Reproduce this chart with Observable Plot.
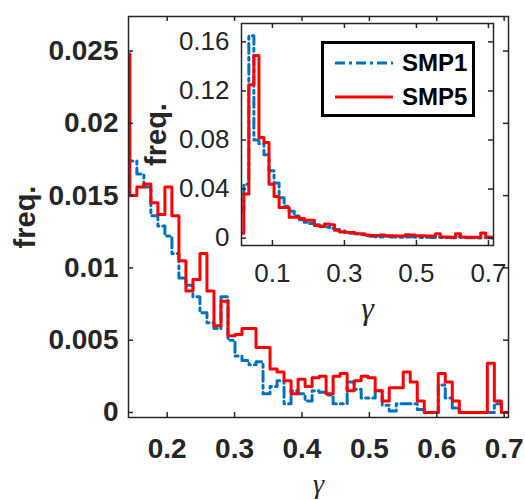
<!DOCTYPE html>
<html><head><meta charset="utf-8">
<script src="https://cdn.jsdelivr.net/npm/d3@7"></script>
<script src="https://cdn.jsdelivr.net/npm/@observablehq/plot@0.6"></script>
<style>
body{margin:0;background:#fff;}
#chart{position:relative;width:525px;height:500px;font-family:"Liberation Sans",Arial,sans-serif;}
#chart svg{position:absolute;left:0;top:0;}
</style></head><body><div id="chart"></div>
<script>
// ---- data ----
const seriesNames = ["SMP1", "SMP5"];
const seriesColors = ["#0072BD", "#FF0000"];

// main histogram bin edges (gamma)
const mainEdges = [0.1342, 0.1446, 0.1550, 0.1654, 0.1758, 0.1862, 0.1966, 0.2070, 0.2174, 0.2278, 0.2382,
  0.2486, 0.2590, 0.2694, 0.2798, 0.2902, 0.3006, 0.3110, 0.3214, 0.3318, 0.3422, 0.3526, 0.3630, 0.3734,
  0.3838, 0.3942, 0.4046, 0.4150, 0.4254, 0.4358, 0.4462, 0.4566, 0.4670, 0.4774, 0.4878, 0.4982, 0.5086,
  0.5190, 0.5294, 0.5398, 0.5502, 0.5606, 0.5710, 0.5814, 0.5918, 0.6022, 0.6126, 0.6230, 0.6334, 0.6438,
  0.6542, 0.6646, 0.6750, 0.6854, 0.6958, 0.7062, 0.7166];
const smp1Main = [0.0174, 0.0174, 0.0165, 0.0156, 0.0136, 0.0129, 0.0122, 0.0110, 0.0093, 0.0088, 0.0080,
  0.0069, 0.0062, 0.0058, 0.0080, 0.0050, 0.0039, 0.0036, 0.0033, 0.0035, 0.0013, 0.0018, 0.0022, 0.0006,
  0.0015, 0.0013, 0.0008, 0.0015, 0.0014, 0.0012, 0.0006, 0.0006, 0.0021, 0.0016, 0.0010, 0.0010, 0.0015,
  0.0005, 0.0001, 0.0006, 0.0006, 0.0006, 0.0002, 0, 0, 0.0019, 0.0010, 0.0003, 0, 0, 0, 0, 0, 0.0006, 0, 0];
const smp5Main = [0.0248, 0.0150, 0.0156, 0.0158, 0.0145, 0.0137, 0.0156, 0.0136, 0.0105, 0.0084, 0.0092,
  0.0110, 0.0084, 0.0060, 0.0077, 0.0053, 0.0054, 0.0058, 0.0058, 0.0045, 0.0045, 0.0030, 0.0028, 0.0022,
  0.0013, 0.0023, 0.0018, 0.0024, 0.0025, 0.0013, 0.0025, 0.0027, 0.0015, 0.0022, 0.0025, 0.0024, 0.0015,
  0.0008, 0.0017, 0.0017, 0.0028, 0.0021, 0.0008, 0, 0, 0.0027, 0.0021, 0.0008, 0, 0, 0, 0, 0.0034, 0.0008, 0, 0];

// inset histogram bin edges (gamma)
const insetEdges = [0.0065, 0.0205, 0.0345, 0.0485, 0.0625, 0.0765, 0.0905, 0.1045, 0.1185, 0.1325, 0.1465,
  0.1605, 0.1745, 0.1885, 0.2025, 0.2165, 0.2305, 0.2445, 0.2585, 0.2725, 0.2865, 0.3005, 0.3145, 0.3285,
  0.3425, 0.3565, 0.3705, 0.3845, 0.3985, 0.4125, 0.4265, 0.4405, 0.4545, 0.4685, 0.4825, 0.4965, 0.5105,
  0.5245, 0.5385, 0.5525, 0.5665, 0.5805, 0.5945, 0.6085, 0.6225, 0.6365, 0.6505, 0.6645, 0.6785, 0.6925,
  0.7065, 0.7205];
const smp1Inset = [0.022, 0.044, 0.165, 0.080, 0.077, 0.068, 0.055, 0.045, 0.033, 0.026, 0.022, 0.018, 0.015,
  0.013, 0.012, 0.011, 0.010, 0.009, 0.008, 0.007, 0.006, 0.005, 0.004, 0.0035, 0.003, 0.002, 0.0015, 0.0012,
  0.0010, 0.0015, 0.0010, 0.0010, 0.0008, 0.0010, 0.0012, 0.0008, 0.0006, 0.0008, 0.0006, 0.0010, 0.0006,
  0.0005, 0.0004, 0.0012, 0.0006, 0.0003, 0.0003, 0.0002, 0.0006, 0.0003, 0.0002];
const smp5Inset = [0.004, 0.036, 0.125, 0.149, 0.082, 0.078, 0.044, 0.034, 0.025, 0.025, 0.017, 0.017, 0.016,
  0.0145, 0.0145, 0.0104, 0.0095, 0.0115, 0.0110, 0.0065, 0.0050, 0.0049, 0.0045, 0.0036, 0.0036, 0.0025,
  0.0022, 0.0022, 0.0025, 0.0020, 0.0020, 0.0018, 0.0018, 0.0028, 0.0025, 0.0020, 0.0020, 0.0018, 0.0018,
  0.0036, 0.0010, 0.0010, 0.0008, 0.0036, 0.0010, 0.0008, 0.0008, 0.0008, 0.0041, 0.0010, 0.0008];

// ticks
const mainXTicks = [0.2, 0.3, 0.4, 0.5, 0.6, 0.7];
const mainXTickLabels = ["0.2", "0.3", "0.4", "0.5", "0.6", "0.7"];
const mainYTicks = [0, 0.005, 0.01, 0.015, 0.02, 0.025];
const mainYTickLabels = ["0", "0.005", "0.01", "0.015", "0.02", "0.025"];
const insetXTicks = [0.1, 0.3, 0.5, 0.7];
const insetXTickLabels = ["0.1", "0.3", "0.5", "0.7"];
const insetYTicks = [0, 0.04, 0.08, 0.12, 0.16];
const insetYTickLabels = ["0", "0.04", "0.08", "0.12", "0.16"];
const yLabel = "freq.";
const xLabel = "γ";

// ---- helpers ----
function steps(edges, vals, name) {
  return edges.map((x, i) => ({x, y: vals[Math.min(i, vals.length - 1)], series: name}));
}
function fmt(ticks, labels) { const m = new Map(ticks.map((t, i) => [t, labels[i]])); return d => m.get(d); }

const W = 525, H = 500, ink = "#262626", tick = 5;
const sans = "'Liberation Sans', Arial, sans-serif";
const serif = "'Liberation Serif', 'Times New Roman', serif";
const chart = document.getElementById("chart");

// ---- main plot ----
const mM = {top: 16, right: 17, bottom: 83, left: 128};
const mFW = W - mM.left - mM.right, mFH = H - mM.top - mM.bottom;
const main = Plot.plot({
  width: W, height: H,
  marginTop: mM.top, marginRight: mM.right, marginBottom: mM.bottom, marginLeft: mM.left,
  style: {background: "transparent", color: ink, fontFamily: sans, overflow: "visible"},
  x: {domain: [0.1426, 0.7064], axis: null},
  y: {domain: [-0.00035, 0.02739], axis: null},
  marks: [
    Plot.line(steps(mainEdges, smp1Main, seriesNames[0]), {x: "x", y: "y", curve: "step-after", stroke: seriesColors[0], strokeWidth: 3, strokeDasharray: "10,4,3,4", clip: true}),
    Plot.line(steps(mainEdges, smp5Main, seriesNames[1]), {x: "x", y: "y", curve: "step-after", stroke: seriesColors[1], strokeWidth: 3, clip: true}),
    Plot.frame({stroke: ink, strokeWidth: 1.5}),
    Plot.tickX(mainXTicks, {x: d => d, insetTop: mFH - tick, stroke: ink, strokeWidth: 1.5}),
    Plot.tickX(mainXTicks, {x: d => d, insetBottom: mFH - tick, stroke: ink, strokeWidth: 1.5}),
    Plot.tickY(mainYTicks, {y: d => d, insetRight: mFW - tick, stroke: ink, strokeWidth: 1.5}),
    Plot.tickY(mainYTicks, {y: d => d, insetLeft: mFW - tick, stroke: ink, strokeWidth: 1.5}),
    Plot.axisX(mainXTicks, {anchor: "bottom", tickSize: 0, tickPadding: 21, tickFormat: fmt(mainXTicks, mainXTickLabels), fontSize: 28, fontWeight: "bold", label: null}),
    Plot.axisY(mainYTicks, {anchor: "left", tickSize: 0, tickPadding: 10, tickFormat: fmt(mainYTicks, mainYTickLabels), fontSize: 28, fontWeight: "bold", label: null}),
    Plot.text([yLabel], {text: d => d, frameAnchor: "left", dx: 25 - mM.left, rotate: -90, textAnchor: "middle", lineAnchor: "middle", fontSize: 29, fontWeight: "bold", fill: ink}),
    Plot.text([xLabel], {text: d => d, frameAnchor: "bottom", dy: 67, textAnchor: "middle", lineAnchor: "middle", fontSize: 28, fontStyle: "italic", fontFamily: serif, fill: ink})
  ]
});
chart.appendChild(main);

// ---- inset plot ----
const iM = {top: 23, right: 32, bottom: 255, left: 241};
const iFW = W - iM.left - iM.right, iFH = H - iM.top - iM.bottom;
const inset = Plot.plot({
  width: W, height: H,
  marginTop: iM.top, marginRight: iM.right, marginBottom: iM.bottom, marginLeft: iM.left,
  style: {background: "transparent", color: ink, fontFamily: sans, overflow: "visible"},
  x: {domain: [0.0141, 0.714], axis: null},
  y: {domain: [-0.006, 0.175], axis: null},
  marks: [
    Plot.frame({fill: "white", stroke: "none"}),
    Plot.line(steps(insetEdges, smp1Inset, seriesNames[0]), {x: "x", y: "y", curve: "step-after", stroke: seriesColors[0], strokeWidth: 3, strokeDasharray: "10,4,3,4", clip: true}),
    Plot.line(steps(insetEdges, smp5Inset, seriesNames[1]), {x: "x", y: "y", curve: "step-after", stroke: seriesColors[1], strokeWidth: 3, clip: true}),
    Plot.frame({stroke: ink, strokeWidth: 1.5}),
    Plot.tickX(insetXTicks, {x: d => d, insetTop: iFH - tick, stroke: ink, strokeWidth: 1.5}),
    Plot.tickX(insetXTicks, {x: d => d, insetBottom: iFH - tick, stroke: ink, strokeWidth: 1.5}),
    Plot.tickY(insetYTicks, {y: d => d, insetRight: iFW - tick, stroke: ink, strokeWidth: 1.5}),
    Plot.tickY(insetYTicks, {y: d => d, insetLeft: iFW - tick, stroke: ink, strokeWidth: 1.5}),
    Plot.axisX(insetXTicks, {anchor: "bottom", tickSize: 0, tickPadding: 18, tickFormat: fmt(insetXTicks, insetXTickLabels), fontSize: 26, label: null}),
    Plot.axisY(insetYTicks, {anchor: "left", tickSize: 0, tickPadding: 12, tickFormat: fmt(insetYTicks, insetYTickLabels), fontSize: 26, label: null}),
    Plot.text([yLabel], {text: d => d, frameAnchor: "left", dx: 156 - iM.left, rotate: -90, textAnchor: "middle", lineAnchor: "middle", fontSize: 29, fontWeight: "bold", fill: ink}),
    Plot.text([xLabel], {text: d => d, frameAnchor: "bottom", dy: 63, textAnchor: "middle", lineAnchor: "middle", fontSize: 32, fontStyle: "italic", fontFamily: serif, fill: ink})
  ]
});
chart.appendChild(inset);

// ---- legend ----
const lg = d3.create("svg").attr("width", 156).attr("height", 78)
  .style("left", "320px").style("top", "40px").style("overflow", "visible");
lg.append("rect").attr("x", 2.5).attr("y", 2.5).attr("width", 151).attr("height", 73)
  .attr("fill", "white").attr("stroke", "black").attr("stroke-width", 3);
seriesNames.forEach((name, i) => {
  const cy = 23 + i * 34;
  lg.append("line").attr("x1", 15).attr("x2", 73).attr("y1", cy).attr("y2", cy)
    .attr("stroke", seriesColors[i]).attr("stroke-width", 3)
    .attr("stroke-dasharray", i === 0 ? "10,4,3,4" : null);
  lg.append("text").attr("x", 82).attr("y", cy).attr("dy", "0.35em")
    .attr("font-family", sans).attr("font-weight", "bold").attr("font-size", 24).attr("fill", "black")
    .text(name);
});
chart.appendChild(lg.node());
</script></body></html>
